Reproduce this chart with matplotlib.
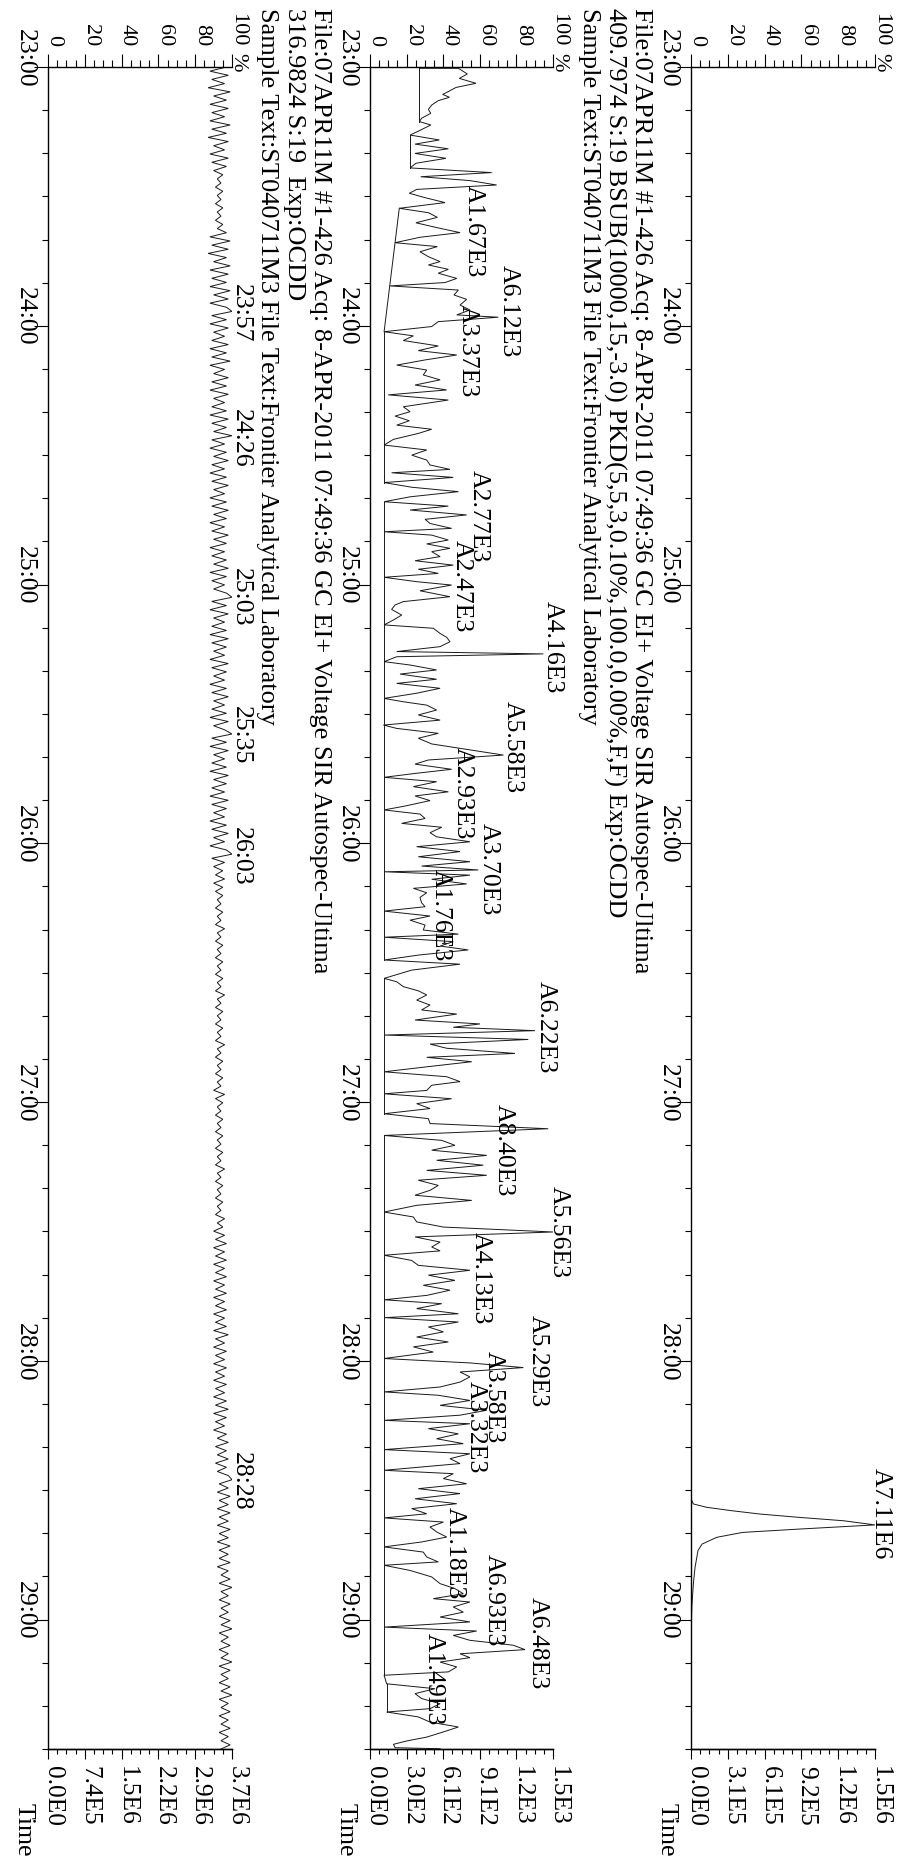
import math
import numpy as np
import matplotlib
matplotlib.use("Agg")
import matplotlib.pyplot as plt
from matplotlib.ticker import FixedLocator
from matplotlib.transforms import blended_transform_factory, offset_copy

plt.rcParams["font.family"] = ["Liberation Serif", "DejaVu Serif"]

W, H, DPI = 897, 1859, 100
T_START, T_END = 23.0, 29.5
FS = 18.5
FS_HEAD = 19

# ---------------------------------------------------------------- axis ticks
PCT_MAJOR = [0, 20, 40, 60, 80, 100]
PCT_MINOR = list(range(0, 101, 5))
TIME_MAJOR = [23, 24, 25, 26, 27, 28, 29]
TIME_MINOR = [23 + k / 6 for k in range(40)]

# ---------------------------------------------------------------- 409.7974 trace (OCDD)
sir409_time = [23.00, 28.50, 28.533, 28.553, 28.566, 28.579, 28.592, 28.605, 28.618,
               28.634, 28.650, 28.663, 28.682, 28.708, 28.733, 28.798, 28.860, 28.946,
               29.07, 29.50]
sir409_pct = [0, 0, 0, 1.3, 8.5, 22, 37.5, 59, 83,
              100, 59, 28, 14, 6, 3.8, 2.2, 1.3, 0.5,
              0, 0]
sir409_full = 1.53e6
sir409_peaks = ["A7.11E6"]
sir409_peak_time = [28.590]
sir409_peak_pct = [100.0]

# ---------------------------------------------------------------- 409.7974 S:19 trace (BSUB)
bsub_time = [
    23.005, 23.005, 23.027, 23.044, 23.063, 23.079, 23.095, 23.106, 23.117, 23.130,
    23.147, 23.164, 23.179, 23.198, 23.211, 23.224, 23.246, 23.263, 23.282, 23.298,
    23.316, 23.334, 23.353, 23.372, 23.390, 23.408, 23.424, 23.439, 23.456, 23.473,
    23.488, 23.505, 23.524, 23.546, 23.563, 23.581, 23.602, 23.620, 23.640, 23.658,
    23.679, 23.694, 23.714, 23.733, 23.752, 23.765, 23.782, 23.797, 23.817, 23.833,
    23.846, 23.862, 23.881, 23.898, 23.920, 23.939, 23.958, 23.967, 23.984, 24.003,
    24.023, 24.039, 24.057, 24.078, 24.096, 24.113, 24.132, 24.152, 24.171, 24.190,
    24.209, 24.229, 24.248, 24.267, 24.287,
    24.313, 24.332, 24.349, 24.367, 24.384, 24.400, 24.416, 24.439, 24.461, 24.480,
    24.500, 24.519, 24.538, 24.555, 24.568, 24.586, 24.606, 24.624, 24.641, 24.661,
    24.680, 24.697, 24.712, 24.731, 24.748, 24.764, 24.783, 24.796, 24.809, 24.828,
    24.843, 24.860, 24.873, 24.892, 24.908, 24.925, 24.941, 24.957, 24.972, 24.989,
    25.002, 25.024, 25.047, 25.066, 25.079, 25.096, 25.118, 25.137, 25.156, 25.169,
    25.189, 25.204, 25.221, 25.240, 25.259, 25.268, 25.279, 25.298, 25.311, 25.330,
    25.346, 25.366, 25.382, 25.401, 25.420, 25.440, 25.453, 25.466, 25.485, 25.504,
    25.524, 25.543, 25.556, 25.575, 25.594,
    25.616, 25.633, 25.659, 25.678, 25.694, 25.714, 25.730, 25.745, 25.762, 25.781,
    25.801, 25.817, 25.835, 25.856, 25.871, 25.887, 25.904, 25.923, 25.938, 25.959,
    25.975, 25.994, 26.013, 26.032, 26.052, 26.071, 26.088, 26.103, 26.110, 26.123,
    26.139, 26.157, 26.174, 26.191, 26.209, 26.230, 26.245, 26.262, 26.281, 26.297,
    26.316, 26.335, 26.351, 26.363, 26.380, 26.397, 26.412, 26.432, 26.451, 26.467,
    26.490, 26.522, 26.535, 26.554, 26.570, 26.586, 26.606, 26.625, 26.644, 26.660,
    26.683, 26.698, 26.711, 26.724, 26.741, 26.758, 26.776, 26.792, 26.812, 26.827,
    26.844, 26.863, 26.883, 26.902, 26.921,
    26.935, 26.955, 26.968, 26.987, 27.006, 27.025, 27.045, 27.064, 27.083, 27.103,
    27.129, 27.148, 27.167, 27.186, 27.206, 27.225, 27.244, 27.264, 27.283, 27.302,
    27.322, 27.341, 27.360, 27.380, 27.399, 27.425, 27.444, 27.463, 27.483, 27.502,
    27.521, 27.541, 27.560, 27.575, 27.592, 27.612, 27.631, 27.650, 27.669, 27.689,
    27.708, 27.727, 27.747, 27.764, 27.779, 27.798, 27.818, 27.833, 27.850, 27.869,
    27.888, 27.908, 27.927, 27.946, 27.966, 27.991, 28.008, 28.026, 28.043, 28.062,
    28.082, 28.101, 28.120, 28.133, 28.153, 28.172, 28.191, 28.210, 28.230,
    28.243, 28.262, 28.282, 28.301, 28.320, 28.343, 28.359, 28.378, 28.397, 28.423,
    28.436, 28.455, 28.475, 28.494, 28.513, 28.533, 28.552, 28.571, 28.591, 28.607,
    28.623, 28.642, 28.661, 28.681, 28.700, 28.719, 28.739, 28.758, 28.777, 28.790,
    28.810, 28.835, 28.861, 28.880, 28.900, 28.919, 28.932, 28.951, 28.971, 28.990,
    29.009, 29.029, 29.044, 29.061, 29.080, 29.099, 29.116, 29.132, 29.147, 29.164,
    29.183, 29.202, 29.215, 29.248, 29.267, 29.286, 29.305, 29.325, 29.344, 29.357,
    29.376, 29.396, 29.415, 29.434, 29.454, 29.469, 29.482, 29.495, 29.499,
]
bsub_pct = [
    27.0, 48.3, 53.2, 48.8, 57.9, 47.0, 42.8, 39.7, 43.4, 37.3,
    33.7, 31.9, 33.2, 28.2, 27.0, 33.2, 27.0, 21.9, 37.9, 24.6,
    42.8, 24.6, 41.5, 25.1, 21.9, 66.5, 27.7, 54.6, 69.2, 25.5,
    21.5, 30.1, 41.0, 16.0, 31.9, 36.8, 25.1, 36.1, 49.2, 27.3,
    13.7, 36.8, 27.3, 31.9, 38.3, 31.9, 42.8, 37.3, 47.4, 41.0,
    10.9, 48.3, 45.9, 52.8, 49.2, 54.6, 47.4, 70.1, 37.3, 33.7,
    7.7, 23.7, 18.2, 37.3, 26.4, 47.4, 30.1, 14.6, 31.0, 29.1,
    38.3, 24.6, 41.9, 10.0, 42.8,
    18.2, 21.9, 13.7, 21.5, 14.6, 33.7, 26.4, 12.8, 7.7, 31.0,
    22.8, 31.0, 32.8, 43.7, 11.8, 45.5, 7.7, 22.8, 48.3, 21.9,
    7.7, 42.8, 21.9, 52.8, 30.1, 32.8, 44.6, 7.7, 33.7, 42.8,
    31.0, 43.7, 33.7, 38.3, 24.6, 45.5, 26.4, 37.3, 7.7, 25.5,
    44.6, 27.3, 43.7, 18.2, 13.7, 11.8, 17.3, 12.8, 7.7, 34.6,
    38.3, 41.9, 43.7, 38.3, 14.6, 94.7, 14.6, 7.7, 21.9, 36.4,
    16.4, 36.4, 14.6, 38.3, 25.5, 7.7, 18.2, 31.0, 36.4, 26.4,
    38.3, 7.3, 14.6, 37.3, 26.4,
    33.7, 49.2, 72.9, 31.9, 24.6, 44.6, 24.6, 7.7, 36.4, 23.7,
    42.8, 24.6, 32.8, 19.1, 7.7, 27.3, 30.1, 17.3, 39.2, 32.8,
    36.4, 54.6, 25.5, 49.2, 26.4, 54.6, 28.2, 59.2, 7.7, 54.6,
    33.7, 52.8, 23.7, 31.0, 27.3, 28.2, 30.1, 7.7, 32.8, 21.9,
    30.1, 29.1, 48.3, 7.7, 45.5, 38.3, 53.7, 26.4, 7.7, 49.2,
    22.8, 7.7, 14.6, 18.2, 26.4, 31.0, 25.5, 32.8, 28.2, 47.4,
    24.6, 60.1, 45.5, 90.2, 7.7, 86.5, 32.8, 41.9, 79.2, 31.0,
    55.6, 31.9, 7.7, 41.9, 49.2,
    33.7, 31.0, 7.7, 44.6, 25.5, 32.8, 7.7, 31.9, 32.8, 97.4,
    7.7, 39.2, 46.4, 33.7, 63.8, 36.4, 61.9, 31.0, 63.8, 26.4,
    37.3, 32.8, 24.6, 55.6, 25.5, 7.7, 23.7, 25.5, 40.1, 100.0,
    24.6, 38.3, 33.7, 38.3, 7.7, 22.8, 26.4, 54.6, 31.9, 46.4,
    29.1, 43.7, 31.0, 7.7, 39.2, 25.5, 48.3, 8.2, 48.3, 31.9,
    40.1, 25.5, 42.8, 23.7, 34.6, 7.7, 54.6, 83.8, 49.2, 54.6,
    49.2, 38.3, 7.7, 37.3, 54.6, 38.3, 63.8, 49.2, 7.7,
    54.6, 31.9, 48.3, 36.4, 51.0, 7.7, 54.6, 43.7, 49.2, 7.7,
    45.5, 40.1, 52.8, 26.4, 49.2, 24.6, 47.4, 22.8, 31.0, 7.7,
    40.1, 32.8, 36.4, 41.9, 28.2, 7.7, 29.1, 31.0, 37.3, 7.7,
    21.9, 33.7, 38.3, 46.4, 51.0, 34.6, 54.6, 45.5, 51.0, 38.3,
    54.6, 7.7, 58.3, 45.5, 54.6, 78.3, 84.7, 49.2, 54.6, 38.3,
    47.4, 42.8, 7.7, 9.1, 35.5, 24.6, 28.2, 38.3, 32.8, 9.1,
    26.4, 32.8, 48.3, 40.1, 31.0, 20.0, 12.8, 13.7, 38.3,
]
bsub_full = 1.52e3

# integration baselines under the detected peaks (start t, start %, end t, end %)
base_t0 = [23.005, 23.263, 23.546, 24.023, 24.680, 26.522, 27.129, 29.248]
base_p0 = [27.0, 21.9, 16.0, 7.7, 7.7, 7.7, 7.7, 9.1]
base_t1 = [23.211, 23.390, 24.023, 24.606, 26.451, 27.045, 29.215, 29.357]
base_p1 = [27.0, 21.9, 7.7, 7.7, 7.7, 7.7, 7.7, 9.1]

bsub_peaks = ["A1.67E3", "A6.12E3", "A3.37E3", "A2.77E3", "A2.47E3", "A4.16E3",
              "A5.58E3", "A2.93E3", "A3.70E3", "A1.76E3", "A6.22E3", "A8.40E3",
              "A5.56E3", "A4.13E3", "A5.29E3", "A3.58E3", "A3.32E3", "A1.18E3",
              "A6.93E3", "A6.48E3", "A1.49E3"]
bsub_peak_time = [23.634, 23.943, 24.098, 24.735, 25.006, 25.242,
                  25.628, 25.806, 26.100, 26.278, 26.711, 27.186,
                  27.503, 27.681, 28.002, 28.141, 28.257, 28.744,
                  28.926, 29.093, 29.232]
bsub_peak_pct = [53.6, 72.7, 50.2, 56.4, 46.6, 96.6,
                 74.8, 47.5, 61.8, 35.5, 92.9, 70.0,
                 100.0, 57.4, 88.5, 64.6, 54.6, 42.8,
                 64.6, 88.5, 31.7]

# ---------------------------------------------------------------- 316.9824 lock mass trace
# one value per scan, 407 scans across the window
lock_pct = [
    97, 88, 98, 89, 96, 87, 99, 90, 97, 88, 98, 89, 96, 88, 99, 89, 97, 87, 98, 90,
    96, 88, 98, 89, 97, 90, 95, 92, 94, 91, 95, 92, 94, 91, 95, 92, 94, 91, 95, 92,
    97, 88, 99, 89, 98, 87, 97, 90, 99, 88, 98, 89, 97, 88, 99, 90, 98, 88, 97, 100,
    89, 97, 88, 98, 90, 96, 89, 98, 88, 97, 89, 99, 88, 96, 90, 98, 89, 97, 88, 98,
    90, 96, 89, 97, 88, 98, 89, 97, 90, 100, 89, 96, 88, 97, 90, 98, 89, 96, 88, 97,
    89, 98, 90, 96, 88, 97, 89, 98, 90, 97, 88, 96, 89, 98, 90, 97, 88, 96, 89, 97,
    90, 98, 88, 97, 89, 96, 90, 97, 100, 89, 97, 88, 98, 90, 96, 89, 97, 88, 98, 89,
    97, 90, 96, 88, 98, 89, 97, 90, 96, 88, 97, 89, 98, 90, 96, 89, 97, 88, 98, 90,
    96, 100, 89, 97, 88, 98, 90, 96, 89, 97, 88, 98, 90, 97, 89, 96, 88, 98, 89, 97,
    90, 96, 88, 97, 89, 98, 90, 96, 88, 97, 100, 89, 96, 90, 95, 91, 96, 90, 95, 91,
    95, 92, 94, 91, 95, 92, 94, 91, 96, 92, 94, 91, 95, 92, 94, 91, 95, 92, 94, 91,
    95, 92, 94, 91, 96, 92, 94, 91, 95, 92, 94, 91, 95, 92, 94, 91, 96, 92, 94, 91,
    95, 92, 94, 91, 95, 92, 94, 90, 96, 91, 95, 92, 94, 91, 95, 92, 94, 91, 95, 92,
    94, 91, 95, 92, 94, 91, 96, 92, 94, 91, 95, 92, 94, 91, 95, 92, 94, 91, 96, 92,
    95, 90, 96, 91, 97, 90, 96, 91, 97, 90, 96, 91, 97, 90, 96, 91, 97, 90, 96, 91,
    97, 90, 96, 91, 97, 90, 98, 91, 96, 90, 97, 91, 96, 90, 97, 91, 96, 90, 97, 91,
    96, 90, 97, 91, 98, 90, 97, 91, 96, 90, 97, 92, 98, 91, 97, 92, 98, 91, 97, 92,
    98, 100, 93, 98, 92, 99, 93, 98, 92, 99, 93, 98, 92, 99, 93, 98, 92, 99, 93, 98,
    93, 99, 92, 98, 94, 99, 93, 100, 94, 98, 93, 99, 94, 98, 93, 99, 94, 100, 93, 98,
    94, 99, 93, 98, 94, 100, 93, 99, 94, 98, 93, 99, 94, 100, 93, 98, 94, 99, 93, 98,
    94, 99, 93, 98, 94, 99, 94,
]
lock_time = np.linspace(T_START, T_END, len(lock_pct))
lock_full = 3.68e6
lock_peak_time = [23.95, 24 + 26 / 60, 25.05, 25 + 35 / 60, 26.05, 28 + 28 / 60]
lock_peak_pct = [101.5, 101.5, 101.5, 101.5, 101.5, 101.5]

HEADER_MID = ["File:07APR11M #1-426 Acq: 8-APR-2011 07:49:36 GC EI+ Voltage SIR Autospec-Ultima",
              "409.7974 S:19 BSUB(10000,15,-3.0) PKD(5,5,3,0.10%,100.0,0.00%,F,F) Exp:OCDD",
              "Sample Text:ST040711M3 File Text:Frontier Analytical Laboratory"]
HEADER_LEFT = ["File:07APR11M #1-426 Acq: 8-APR-2011 07:49:36 GC EI+ Voltage SIR Autospec-Ultima",
               "316.9824 S:19  Exp:OCDD",
               "Sample Text:ST040711M3 File Text:Frontier Analytical Laboratory"]


def sci_label(v):
    if v == 0:
        return "0.0E0"
    e = int(math.floor(math.log10(v)))
    m = round(v / 10 ** e, 1)
    if m >= 10:
        m /= 10
        e += 1
    return f"{m:.1f}E{e}"


def mmss(t):
    total = int(round(t * 60))
    return f"{total // 60}:{total % 60:02d}"


fig = plt.figure(figsize=(W / DPI, H / DPI), dpi=DPI)
fig.patch.set_facecolor("white")

AX_TOP_PX, AX_BOT_PX = 67, 1749


def make_panel(left_px, width_px, full_scale):
    ax = fig.add_axes([left_px / W, 1 - AX_BOT_PX / H, width_px / W,
                       (AX_BOT_PX - AX_TOP_PX) / H])
    ax.set_xlim(0, 100)
    ax.set_ylim(T_END, T_START)
    ax.patch.set_alpha(0)
    ax.spines["right"].set_visible(False)
    for s in ("left", "top", "bottom"):
        ax.spines[s].set_linewidth(1.0)

    ax.xaxis.set_ticks_position("top")
    ax.xaxis.set_major_locator(FixedLocator(PCT_MAJOR))
    ax.xaxis.set_minor_locator(FixedLocator(PCT_MINOR))
    ax.tick_params(axis="x", which="major", direction="out", length=9.5, width=0.8,
                   labeltop=False, labelbottom=False)
    ax.tick_params(axis="x", which="minor", direction="out", length=5, width=0.8)

    ax.yaxis.set_ticks_position("left")
    ax.yaxis.set_major_locator(FixedLocator(TIME_MAJOR))
    ax.yaxis.set_minor_locator(FixedLocator(TIME_MINOR))
    ax.tick_params(axis="y", which="major", direction="out", length=10, width=0.8,
                   labelleft=False)
    ax.tick_params(axis="y", which="minor", direction="out", length=4.3, width=0.8)

    sec = ax.secondary_xaxis("bottom", functions=(lambda p: p * full_scale / 100,
                                                  lambda v: v * 100 / full_scale))
    abs_major = [full_scale * k / 5 for k in range(6)]
    sec.xaxis.set_major_locator(FixedLocator(abs_major))
    sec.xaxis.set_minor_locator(FixedLocator([full_scale * k / 20 for k in range(21)]))
    sec.tick_params(which="major", direction="out", length=7, width=0.8, labelbottom=False)
    sec.tick_params(which="minor", direction="out", length=3.6, width=0.8)
    sec.spines["bottom"].set_linewidth(1.0)

    tr = blended_transform_factory(ax.transAxes, ax.transData)
    for m in TIME_MAJOR:
        ax.text(0, m, mmss(m), transform=offset_copy(tr, fig=fig, x=-23, y=9, units="dots"),
                rotation=-90, ha="center", va="center", fontsize=FS)
    ax.text(0, T_END, "Time", transform=offset_copy(tr, fig=fig, x=-24, y=-54, units="dots"),
            rotation=-90, ha="center", va="top", fontsize=FS)

    for p in PCT_MAJOR:
        ax.text(p, T_START, str(p),
                transform=offset_copy(ax.transData, fig=fig, x=6, y=21, units="dots"),
                rotation=-90, ha="center", va="bottom", fontsize=16)
    ax.text(100, T_START, "%",
            transform=offset_copy(ax.transData, fig=fig, x=6, y=14, units="dots"),
            rotation=-90, ha="center", va="top", fontsize=16)

    for v in abs_major:
        ax.text(v * 100 / full_scale, T_END, sci_label(v),
                transform=offset_copy(ax.transData, fig=fig, x=5, y=-17, units="dots"),
                rotation=-90, ha="center", va="top", fontsize=18.3)
    return ax


def peak_labels(ax, texts, times, pcts):
    tr = offset_copy(ax.transData, fig=fig, x=-5, units="dots")
    for s, t, p in zip(texts, times, pcts):
        ax.text(p, t, s, transform=tr, rotation=-90, ha="left", va="center",
                fontsize=FS, clip_on=False)


def header(lines, xs_px):
    for s, x in zip(lines, xs_px):
        fig.text(x / W, 1 - 8 / H, s, rotation=-90, ha="center", va="top", fontsize=FS_HEAD)


LINE_KW = dict(color="#1a1a1a", lw=0.7, solid_joinstyle="miter")

# right panel: 409.7974
ax_r = make_panel(691, 184, sir409_full)
ax_r.plot(sir409_pct, sir409_time, **LINE_KW)
peak_labels(ax_r, sir409_peaks, sir409_peak_time, sir409_peak_pct)

# middle panel: 409.7974 background subtracted
ax_m = make_panel(370, 183, bsub_full)
ax_m.plot(bsub_pct, bsub_time, **LINE_KW)
for t0, p0, t1, p1 in zip(base_t0, base_p0, base_t1, base_p1):
    ax_m.plot([p0, p1], [t0, t1], **LINE_KW)
peak_labels(ax_m, bsub_peaks, bsub_peak_time, bsub_peak_pct)
header(HEADER_MID, [641, 615, 589])

# left panel: 316.9824 lock mass
ax_l = make_panel(48, 184, lock_full)
ax_l.plot(lock_pct, lock_time, **LINE_KW)
peak_labels(ax_l, [mmss(t) for t in lock_peak_time], lock_peak_time, lock_peak_pct)
header(HEADER_LEFT, [320, 294, 267])

fig.savefig("out.png", dpi=DPI, facecolor="white")
